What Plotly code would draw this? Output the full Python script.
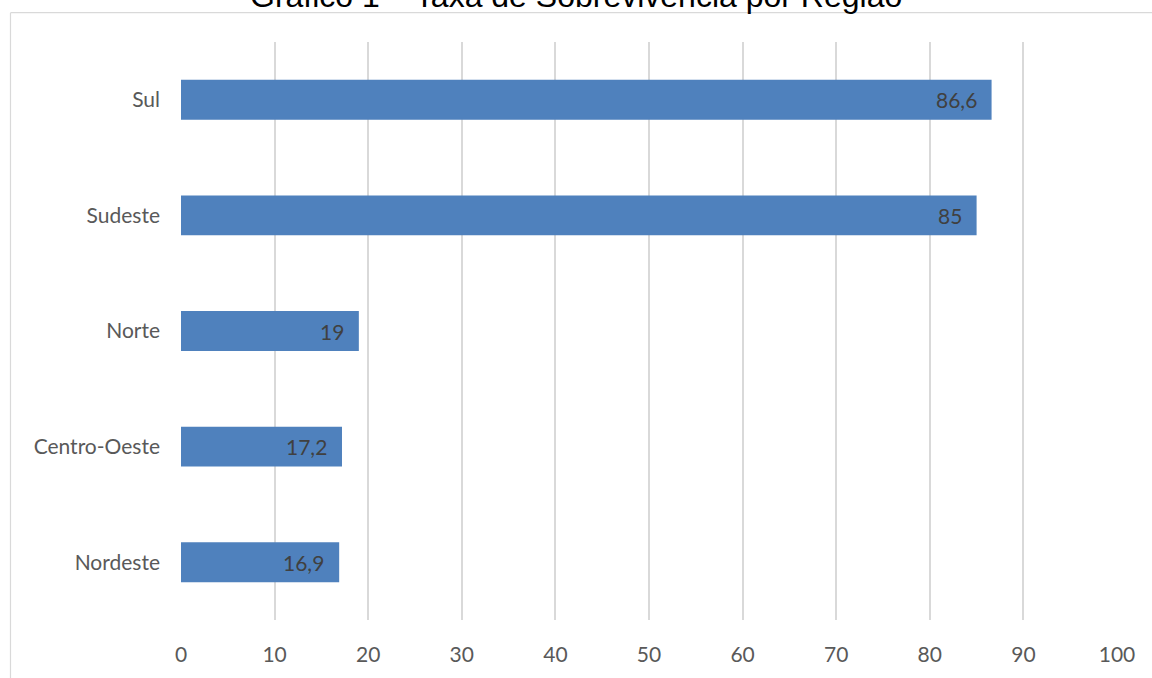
import plotly.graph_objects as go

categories = ["Nordeste", "Centro-Oeste", "Norte", "Sudeste", "Sul"]
values = [16.9, 17.2, 19, 85, 86.6]
x_ticks = [0, 10, 20, 30, 40, 50, 60, 70, 80, 90, 100]
title_text = "Gráfico 1 – Taxa de Sobrevivência por Região"

W, H = 1152, 678
L, R, T, B = 181, 35, 42, 54
PW, PH = W - L - R, H - T - B

def px_x(px):
    return (px - L) / PW

def px_y(py):
    return (H - B - py) / PH

labels = [f"{v:g}".replace(".", ",") for v in values]
FONT = "Lato, Carlito, Calibri, sans-serif"

fig = go.Figure()
fig.add_trace(go.Bar(
    y=categories, x=values, orientation="h",
    marker=dict(color="#4F81BD", line=dict(width=0)),
    width=0.345, hoverinfo="skip",
))

for c, v, t in zip(categories, values, labels):
    fig.add_annotation(x=v, y=c, xref="x", yref="y", text=t, showarrow=False,
                       xanchor="right", yanchor="middle", xshift=-13,
                       font=dict(family=FONT, size=21, color="#404040"))

# title (partially cropped at top, as in the reference)
fig.add_annotation(x=px_x(W / 2), y=px_y(-4.5), xref="paper", yref="paper",
                   text=title_text, showarrow=False, xanchor="center", yanchor="middle",
                   font=dict(family="Liberation Sans, Arial, sans-serif", size=32, color="#000000"))

# chart border (cropped)
fig.add_shape(type="line", xref="paper", yref="paper",
              x0=px_x(10.5), x1=px_x(W + 5), y0=px_y(12.5), y1=px_y(12.5),
              line=dict(color="#D9D9D9", width=1.2))
fig.add_shape(type="line", xref="paper", yref="paper",
              x0=px_x(10.5), x1=px_x(10.5), y0=px_y(12.5), y1=px_y(H + 5),
              line=dict(color="#D9D9D9", width=1.2))

fig.update_layout(
    width=W, height=H,
    margin=dict(l=L, r=R, t=T, b=B),
    paper_bgcolor="white", plot_bgcolor="white",
    showlegend=False,
    xaxis=dict(range=[0, 100], tickvals=x_ticks, ticktext=[str(v) for v in x_ticks],
               showgrid=True, gridcolor="#D9D9D9", gridwidth=1.5,
               zeroline=False, showline=False, ticks="",
               tickfont=dict(family=FONT, size=21, color="#595959"),
               ticklabelstandoff=20, fixedrange=True),
    yaxis=dict(categoryorder="array", categoryarray=categories,
               showgrid=False, zeroline=False, showline=False, ticks="",
               tickfont=dict(family=FONT, size=21, color="#595959"),
               ticklabelstandoff=20, fixedrange=True),
    font=dict(family=FONT),
)

fig.write_html("out.html")
